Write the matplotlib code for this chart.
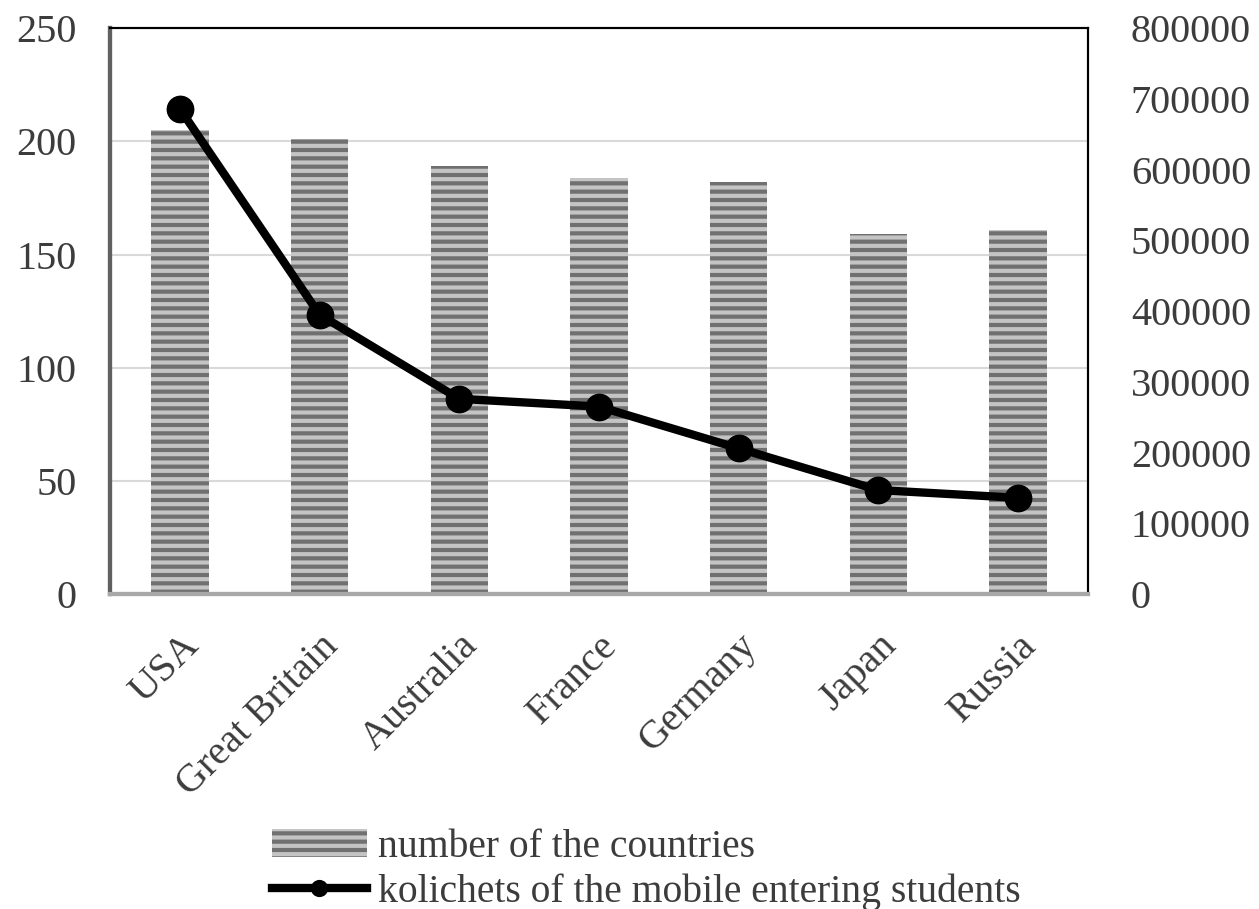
import matplotlib.pyplot as plt
import numpy as np

countries = ['USA', 'Great Britain', 'Australia', 'France', 'Germany', 'Japan', 'Russia']
num_countries = [205, 201, 189, 184, 182, 159, 161]
mobile_students = [686000, 395000, 276000, 265000, 206000, 147000, 136000]

plt.rcParams['font.family'] = ['Liberation Serif', 'DejaVu Serif']
plt.rcParams['hatch.linewidth'] = 3.0
txt_color = '#3c3c3c'

fig = plt.figure(figsize=(12.59, 9.09), dpi=100)
ax = fig.add_axes([0.0874, 0.3465, 0.7766, 0.6225])
ax2 = ax.twinx()

x = np.arange(len(countries))
bars = ax.bar(x, num_countries, width=0.41, color='#707070', edgecolor='#c4c4c4',
              linewidth=0, hatch='--', label='number of the countries', zorder=2)
line, = ax2.plot(x, mobile_students, color='black', lw=6, marker='o', ms=19,
                 label='kolichets of the mobile entering students', zorder=3)

ax.set_xlim(-0.5, len(countries) - 0.5)
ax.set_ylim(0, 250)
ax.set_yticks(range(0, 251, 50))
ax2.set_ylim(0, 800000)
ax2.set_yticks(range(0, 800001, 100000))
ax.yaxis.grid(True, color='#d9d9d9', lw=1.5, zorder=0)
ax.set_axisbelow(True)

ax.set_xticks(x)
ax.set_xticklabels(countries, rotation=45, ha='right', rotation_mode='anchor')
ax.tick_params(axis='x', length=0, pad=24, labelsize=29, labelcolor=txt_color)
ax.tick_params(axis='y', length=0, pad=24, labelsize=29, labelcolor=txt_color)
ax2.tick_params(axis='y', length=0, pad=31, labelsize=29, labelcolor=txt_color)

for a in (ax, ax2):
    a.spines['top'].set_color('black')
    a.spines['top'].set_linewidth(1.5)
    a.spines['right'].set_color('black')
    a.spines['right'].set_linewidth(1.5)
    a.spines['left'].set_color('#606060')
    a.spines['left'].set_linewidth(3)
    a.spines['bottom'].set_color('#a8a8a8')
    a.spines['bottom'].set_linewidth(3)

fig.legend(handles=[bars, line], loc='upper left', bbox_to_anchor=(0.2, 0.11),
           frameon=False, fontsize=28.5, handlelength=2.4, handletextpad=0.3,
           labelspacing=0.2, borderpad=0, markerscale=0.6, labelcolor=txt_color)

fig.savefig('out.png', dpi=100)
